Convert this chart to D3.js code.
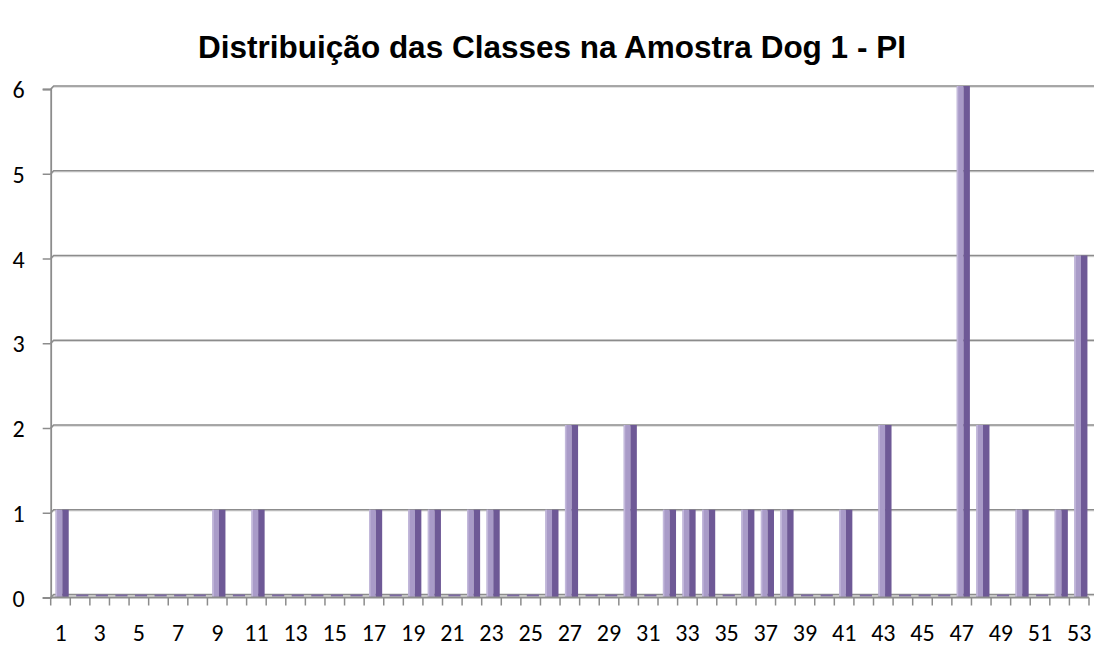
<!DOCTYPE html>
<html>
<head>
<meta charset="utf-8">
<script src="https://cdn.jsdelivr.net/npm/d3@7"></script>
<style>
  body { margin: 0; background: #fff; }
  svg { display: block; }
</style>
</head>
<body>
<div id="chart"></div>
<script>
var title = "Distribuição das Classes na Amostra Dog 1 - PI";
var classes = d3.range(1, 54);
var counts = [1,0,0,0,0,0,0,0,1,0, 1,0,0,0,0,0,1,0,1,1, 0,1,1,0,0,1,2,0,0,2,
              0,1,1,1,0,1,1,1,0,0, 1,0,2,0,0,0,6,2,0,1, 0,1,4];
var yTicks = [0, 1, 2, 3, 4, 5, 6];

var W = 1094, H = 647;
var depth = 3; // fake 3d offset

var svg = d3.select("#chart")
    .append("svg")
    .attr("width", W)
    .attr("height", H);

var x = d3.scaleBand()
    .domain(classes)
    .range([50.7, 1089])
    .padding(0);

var y = d3.scaleLinear()
    .domain([0, 6])
    .range([597.5, 89]);

var bw = x.bandwidth();

// title
svg.append("text")
    .attr("x", 552)
    .attr("y", 58)
    .attr("text-anchor", "middle")
    .style("font-family", "'Liberation Sans', Arial, sans-serif")
    .style("font-weight", "bold")
    .style("font-size", "31.5px")
    .text(title);

// gridlines (back wall)
var grid = svg.append("g");
yTicks.forEach(function(t) {
    var yy = y(t);
    var d = "M50.7," + yy + "L" + (50.7 + depth) + "," + (yy - depth) + "L" + W + "," + (yy - depth);
    grid.append("path")
        .attr("d", d)
        .attr("fill", "none")
        .attr("stroke", "#d6d6d6")
        .attr("stroke-width", 1)
        .attr("transform", "translate(0,1.2)");
    grid.append("path")
        .attr("d", d)
        .attr("fill", "none")
        .attr("stroke", "#8c8c8c")
        .attr("stroke-width", 1.6);
});

// bars
var bar = svg.append("g").selectAll("g")
    .data(classes)
    .enter().append("g");

function x0(d) { return x(d) + 0.25 * bw; }
function barTop(i) { return y(counts[i]) - depth; }
function barH(i) { return y(0) - y(counts[i]) + depth; }

var nonzero = bar.filter(function(d, i) { return counts[i] > 0; });

nonzero.append("rect")
    .attr("x", function(d) { return x0(d); })
    .attr("y", function(d) { return barTop(d - 1); })
    .attr("width", 0.34 * bw)
    .attr("height", function(d) { return barH(d - 1); })
    .attr("fill", "#a99bc8");

nonzero.append("rect")
    .attr("x", function(d) { return x0(d); })
    .attr("y", function(d) { return barTop(d - 1); })
    .attr("width", 1.5)
    .attr("height", function(d) { return barH(d - 1); })
    .attr("fill", "#c3b9db");

nonzero.append("rect")
    .attr("x", function(d) { return x0(d) + 0.34 * bw; })
    .attr("y", function(d) { return barTop(d - 1); })
    .attr("width", 0.33 * bw)
    .attr("height", function(d) { return barH(d - 1); })
    .attr("fill", "#6e5996");

// zero-height bars: just a flat top
bar.filter(function(d, i) { return !counts[i]; })
    .append("rect")
    .attr("x", function(d) { return x0(d) + 1; })
    .attr("y", y(0) - depth)
    .attr("width", 0.62 * bw)
    .attr("height", 2)
    .attr("fill", "#7d6aa3");

// axes
var labelFont = "Carlito, Lato, 'Open Sans', sans-serif";

var yAxis = svg.append("g")
    .attr("transform", "translate(50.7,0)")
    .call(d3.axisLeft(y).tickValues(yTicks).tickFormat(d3.format("d"))
        .tickSize(8).tickPadding(18));

var xAxis = svg.append("g")
    .attr("transform", "translate(0," + y(0) + ")")
    .call(d3.axisBottom(x).tickSize(0).tickPadding(26)
        .tickFormat(function(d) { return d % 2 ? d : ""; }));

[yAxis, xAxis].forEach(function(a) {
    a.attr("font-size", null).attr("font-family", null);
    a.select(".domain").attr("stroke", "#8c8c8c").attr("stroke-width", 1.8);
    a.selectAll(".tick line").attr("stroke", "#8c8c8c").attr("stroke-width", 1.5);
    a.selectAll("text")
        .style("font-family", labelFont)
        .style("font-size", "24px")
        .attr("fill", "#000");
});
xAxis.select(".domain").attr("d", "M50.7,0H" + (x(53) + bw));
yAxis.selectAll("text").attr("dy", "0.36em");

// x ticks sit at band boundaries
xAxis.selectAll(".tk")
    .data(classes.concat([54]))
    .enter().append("line")
    .attr("class", "tk")
    .attr("x1", function(d) { return d === 54 ? x(53) + bw : x(d); })
    .attr("x2", function(d) { return d === 54 ? x(53) + bw : x(d); })
    .attr("y1", 0)
    .attr("y2", 8)
    .attr("stroke", "#8c8c8c")
    .attr("stroke-width", 1.5);
</script>
</body>
</html>
